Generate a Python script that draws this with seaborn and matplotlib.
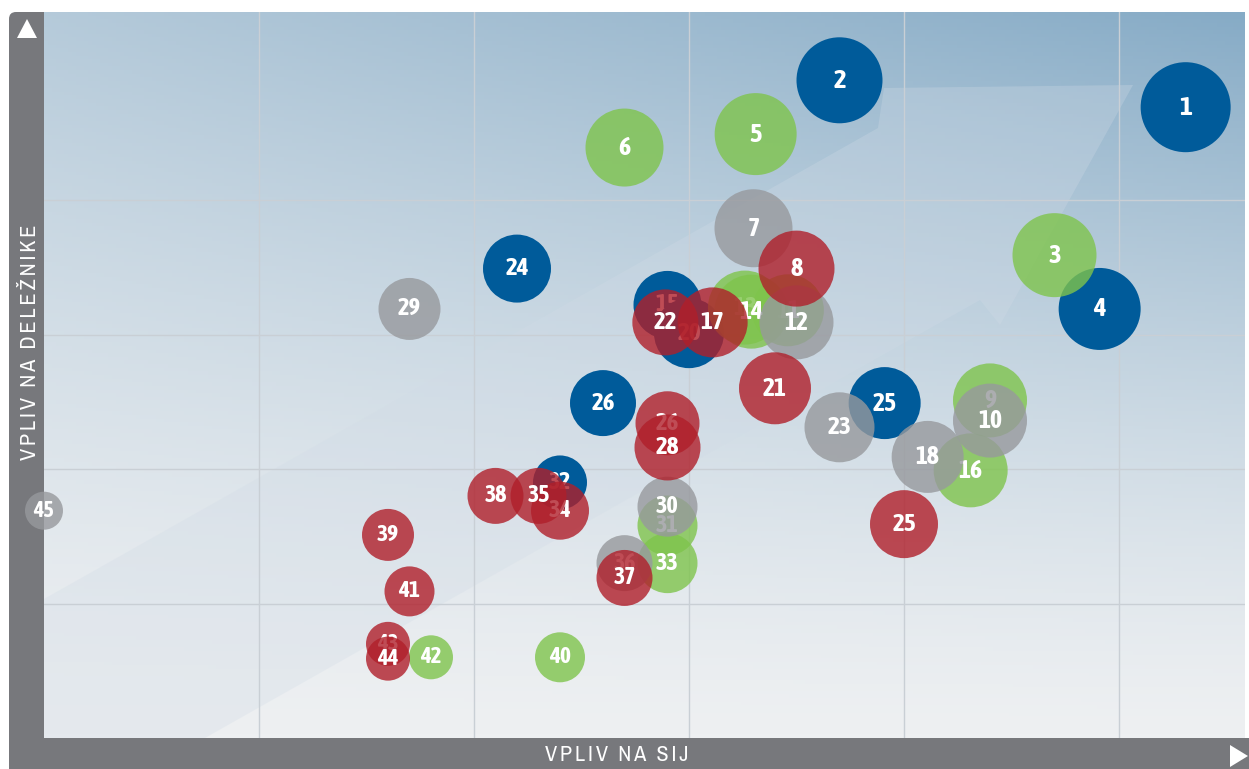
import numpy as np
import pandas as pd
import matplotlib.pyplot as plt
import matplotlib.font_manager as fm
from matplotlib.patches import Polygon, FancyBboxPatch, Rectangle
import seaborn as sns

# bubble data (x = vpliv na SIJ, y = vpliv na deležnike, weight = bubble radius in px)
labels = ['1', '2', '3', '4', '5', '6', '7', '8', '9', '10', '11', '12', '13', '14',
          '15', '16', '17', '18', '20', '21', '22', '23', '24', '25', '25', '26', '26',
          '28', '29', '30', '31', '32', '33', '34', '35', '36', '37', '38', '39', '40',
          '41', '42', '43', '44', '45']
groups = ['b', 'b', 'g', 'b', 'g', 'g', 's', 'r', 'g', 's', 'g', 's', 'g', 'g',
          'b', 'g', 'r', 's', 'b', 'r', 'r', 's', 'b', 'b', 'r', 'b', 'r',
          'r', 's', 's', 'g', 'b', 'g', 'r', 'r', 's', 'r', 'r', 'r', 'g',
          'r', 'g', 'r', 'r', 's']
vpliv_sij = [5.31, 3.70, 4.70, 4.91, 3.31, 2.70, 3.30, 3.50, 4.40, 4.40, 3.46, 3.50, 3.26, 3.29,
             2.90, 4.31, 3.11, 4.11, 3.00, 3.40, 2.89, 3.70, 2.20, 3.91, 4.00, 2.60, 2.90,
             2.90, 1.70, 2.90, 2.90, 2.40, 2.90, 2.40, 2.30, 2.70, 2.70, 2.10, 1.60, 2.40,
             1.70, 1.80, 1.60, 1.60, 0.00]
vpliv_delezniki = [4.69, 4.89, 3.59, 3.19, 4.49, 4.39, 3.79, 3.49, 2.51, 2.36, 3.18, 3.09, 3.20, 3.17,
                   3.22, 1.99, 3.09, 2.09, 3.01, 2.60, 3.09, 2.31, 3.49, 2.49, 1.59, 2.49, 2.34,
                   2.16, 3.19, 1.72, 1.58, 1.90, 1.30, 1.69, 1.80, 1.30, 1.19, 1.80, 1.51, 0.60,
                   1.09, 0.60, 0.70, 0.59, 1.69]
weight = [45, 43, 42, 41, 41, 39, 39, 38, 37, 37, 36, 37, 37, 37,
          34, 37, 35, 36, 35, 36, 33, 35, 34, 36, 34, 33, 32,
          33, 31, 30, 30, 27, 30, 29, 28, 28, 28, 28, 26, 25,
          25, 22, 22, 22, 19]

df = pd.DataFrame({'label': labels, 'group': groups, 'sij': vpliv_sij,
                   'del': vpliv_delezniki, 'weight': weight})
rank = {'b': 0, 'g': 1, 's': 2, 'r': 3}
df['rank'] = df['group'].map(rank)
df = df.reset_index().sort_values(['rank', 'index'], kind='stable')

colors = {'b': '#005b9a', 'g': '#7fc44c', 's': '#97999d', 'r': '#b01f2a'}
alphas = {'b': 1.0, 'g': 0.8, 's': 0.8, 'r': 0.8}

# pick condensed faces: a bold one for bubble numbers, a plain one for axis titles
fonts = fm.fontManager.ttflist
cands = [f for f in fonts if 'Narrow' in f.name or 'Condensed' in f.name]
bold_names = [f.name for f in cands if isinstance(f.weight, int) and f.weight >= 600
              or f.weight in ('bold', 'semibold', 'demibold', 'heavy', 'black')]
if bold_names:
    narrow = bold_names[0]
elif cands:
    narrow = cands[0].name
else:
    narrow = 'Roboto'
plain = cands[0].name if cands else 'Roboto'
plt.rcParams['font.family'] = [narrow, 'DejaVu Sans']


def spaced(text):
    # letter tracking with thin spaces, wider gaps between words
    return '  '.join('\u2009'.join(w) for w in text.split(' '))


W, H = 1249, 769
fig = plt.figure(figsize=(W / 100, H / 100), dpi=100)

# frame with axis bars
bg = fig.add_axes([0, 0, 1, 1])
bg.set_xlim(0, W)
bg.set_ylim(H, 0)
bg.axis('off')
bar = '#77787c'
bg.add_patch(FancyBboxPatch((9, 12), 35, 757, boxstyle='round,pad=0,rounding_size=7',
                            fc=bar, ec='none'))
bg.add_patch(Rectangle((9, 40), 35, 729, fc=bar, ec='none'))
bg.add_patch(Rectangle((30, 12), 14, 40, fc=bar, ec='none'))
bg.add_patch(Rectangle((9, 738), W - 9, 31, fc=bar, ec='none'))
bg.add_patch(Polygon([(17, 38), (37, 38), (27, 19)], fc='white', ec='none'))
bg.add_patch(Polygon([(1230, 745), (1230, 767), (1248, 756)], fc='white', ec='none'))
bg.text(617, 755, spaced('VPLIV NA SIJ'), color='white', fontsize=16,
        family=[plain, 'DejaVu Sans'], fontweight='normal', ha='center', va='center')
bg.text(30, 342, spaced('VPLIV NA DELEŽNIKE'), color='white', fontsize=16,
        family=[plain, 'DejaVu Sans'], fontweight='normal', ha='center', va='center',
        rotation=90)

# plot area
x0, x1, y0, y1 = 44, 1245, 12, 738
ax = fig.add_axes([x0 / W, (H - y1) / H, (x1 - x0) / W, (y1 - y0) / H])
ax.set_zorder(2)
xmax = (x1 - x0) / 215
ymax = (y1 - y0) / 134.5
ax.set_xlim(0, xmax)
ax.set_ylim(0, ymax)

# background gradient: light at bottom, steel blue towards the top right
u = np.linspace(0, 1, 300)[None, :]
v = np.linspace(0, 1, 200)[:, None]
f = np.clip(v ** 1.3 * (0.55 + 0.45 * u), 0, 1)[..., None]
light = np.array([238, 240, 242]) / 255
blue = np.array([134, 171, 198]) / 255
img = light * (1 - f) + blue * f
ax.imshow(img, extent=(0, xmax, 0, ymax), origin='lower', aspect='auto', zorder=0.1)

# big translucent arrow
def px(p):
    return ((p[0] - x0) / 215, (y1 - p[1]) / 134.5)

arrow = [(44, 599), (878, 128), (884, 88), (1133, 85), (1000, 325), (980, 300), (44, 829)]
ax.add_patch(Polygon([px(p) for p in arrow], fc=(0.82, 0.86, 0.90), alpha=0.3,
                     ec='none', zorder=0.3))

ax.set_xticks([1, 2, 3, 4, 5])
ax.set_yticks([1, 2, 3, 4])
ax.set_axisbelow(True)
ax.grid(color='#c9cfd5', lw=1)
ax.tick_params(length=0, labelbottom=False, labelleft=False)
for s in ax.spines.values():
    s.set_visible(False)

for k, (_, row) in enumerate(df.iterrows()):
    r = row['weight']
    sns.scatterplot(data=df.loc[[row.name]], x='sij', y='del', ax=ax,
                    s=(1.44 * r) ** 2, color=colors[row['group']],
                    alpha=alphas[row['group']], linewidth=0, edgecolor='none',
                    zorder=3 + 2 * k, clip_on=False, legend=False)
    ax.text(row['sij'], row['del'], row['label'], color='white', fontweight='bold',
            fontsize=13 + 0.15 * r, ha='center', va='center',
            zorder=4 + 2 * k, clip_on=False)

ax.set_xlabel('')
ax.set_ylabel('')
fig.savefig('out.png', dpi=100)
